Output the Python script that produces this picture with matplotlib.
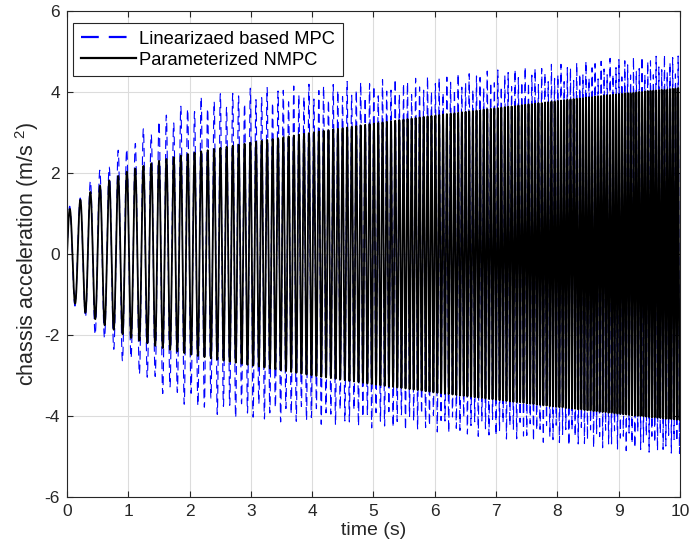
import numpy as np
import matplotlib
matplotlib.use("Agg")
import matplotlib.pyplot as plt

plt.rcParams['font.family'] = ['Liberation Sans', 'DejaVu Sans']
plt.rcParams['mathtext.fontset'] = 'custom'
plt.rcParams['mathtext.rm'] = 'Liberation Sans'
plt.rcParams['axes.unicode_minus'] = False

# ---- data ----
t_knots = [0.0, 0.3, 0.6, 1.0, 1.5, 2.0, 2.5, 3.0, 4.0, 5.0, 6.0, 7.0, 8.0, 9.0, 10.0]
# upper envelope of the parameterized NMPC response (m/s^2)
nmpc_env = [1.05, 1.45, 1.75, 2.05, 2.30, 2.48, 2.62, 2.75, 3.00, 3.22, 3.42, 3.60, 3.78, 3.95, 4.10]
# upper envelope of the linearized-MPC response (m/s^2)
mpc_env = [1.10, 1.70, 2.25, 2.80, 3.40, 3.80, 4.00, 4.10, 4.20, 4.30, 4.40, 4.55, 4.70, 4.85, 4.95]
# excitation frequency (Hz) read from the spacing of the oscillations
f_knots = [5.6, 6.1, 6.6, 7.2, 8.1, 9.0, 9.8, 10.7, 12.4, 14.1, 15.8, 17.5, 19.2, 20.9, 22.6]

fs = 1000
t = np.arange(0, 10 + 1.0 / fs, 1.0 / fs)
f_t = np.interp(t, t_knots, f_knots)
phase = 2 * np.pi * np.cumsum(f_t) / fs
phase -= phase[0]
a_nmpc = np.interp(t, t_knots, nmpc_env)
a_mpc = np.interp(t, t_knots, mpc_env)
y_nmpc = a_nmpc * np.sin(phase)
y_mpc = a_mpc * (0.95 * np.sin(phase + 0.05) + 0.05 * np.sin(1.37 * phase))

fig = plt.figure(figsize=(6.91, 5.6), dpi=100)
ax = fig.add_axes([0.097, 0.1125, 0.887, 0.868])

ax.plot(t, y_mpc, color=(0, 0, 1), lw=0.8, linestyle=(0, (8, 4.5)),
        label='Linearizaed based MPC')
ax.plot(t, y_nmpc, color='black', lw=1.3, label='Parameterized NMPC')

ax.set_xlim(0, 10)
ax.set_ylim(-6, 6)
ax.set_xticks(range(0, 11))
ax.set_yticks(range(-6, 7, 2))
ax.grid(True, color='#dcdcdc', lw=0.8)
ax.set_axisbelow(True)
ax.tick_params(direction='in', length=4, labelsize=12.5, colors='#262626',
               top=True, right=True, labelcolor='#262626', pad=5)
for s in ax.spines.values():
    s.set_color('#262626')
    s.set_linewidth(0.8)
ax.set_xlabel('time (s)', fontsize=14, color='#262626', labelpad=2)
ax.set_ylabel(r'chassis acceleration (m/s $^{\mathrm{2}}$)', fontsize=15.5,
              color='#262626', labelpad=3)

leg = ax.legend(loc='upper left', bbox_to_anchor=(6 / 613, 1 - 12 / 486),
                fontsize=13.2, frameon=True, fancybox=False,
                edgecolor='#262626', framealpha=1, handlelength=3.0,
                borderaxespad=0, borderpad=0.42, labelspacing=0.22,
                handletextpad=0.2)
leg.get_frame().set_linewidth(0.8)
for l in leg.get_lines():
    l.set_linewidth(1.6)

fig.savefig('out.png', dpi=100)
